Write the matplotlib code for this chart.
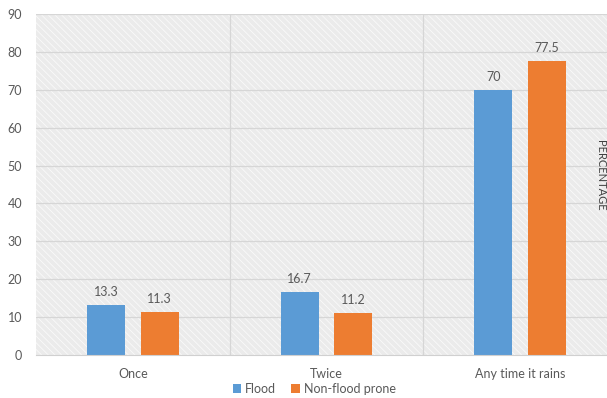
import numpy as np
import matplotlib.pyplot as plt
from matplotlib.patches import Rectangle

plt.rcParams['font.family'] = ['Lato', 'DejaVu Sans']
plt.rcParams['hatch.linewidth'] = 0.6

categories = ['Once', 'Twice', 'Any time it rains']
flood = [13.3, 16.7, 70]
non_flood = [11.3, 11.2, 77.5]
legend_labels = ['Flood', 'Non-flood prone']

blue = '#5b9bd5'
orange = '#ed7d31'
text_gray = '#595959'

fig = plt.figure(figsize=(6.07, 3.98), dpi=100)
# the plot area runs slightly past the right edge of the figure
ax = fig.add_axes([36 / 607, 1 - 355 / 398, (617 - 36) / 607, (355 - 14) / 398])

ind = np.arange(len(categories))
width = 0.196
offset = 0.139

# hatched background
bg = Rectangle((0, 0), 1, 1, transform=ax.transAxes, facecolor='#ebebeb',
               edgecolor='#fafafa', hatch='\\\\\\\\\\', linewidth=0, zorder=0)
ax.add_patch(bg)

flood_bars = ax.bar(ind - offset, flood, width, color=blue, zorder=3)
non_bars = ax.bar(ind + offset, non_flood, width, color=orange, zorder=3)

for bars in (flood_bars, non_bars):
    for b in bars:
        v = b.get_height()
        ax.annotate(f'{v:g}', (b.get_x() + b.get_width() / 2, v),
                    xytext=(0, 5), textcoords='offset points',
                    ha='center', va='bottom', fontsize=9, color=text_gray)

ax.set_xlim(-0.5, len(categories) - 0.5)
ax.set_ylim(0, 90)
ax.set_yticks(np.arange(0, 91, 10))
ax.set_xticks(ind)
ax.set_xticklabels(categories)

# gridlines: horizontal at each tick, vertical between categories
for y in np.arange(10, 91, 10):
    ax.axhline(y, color='#d6d6d6', linewidth=0.9, zorder=1)
for x in ind[:-1] + 0.5:
    ax.axvline(x, color='#d6d6d6', linewidth=0.9, zorder=1)

for side in ['top', 'right', 'left']:
    ax.spines[side].set_visible(False)
ax.spines['bottom'].set_color('#d0d0d0')
ax.spines['bottom'].set_zorder(4)
ax.tick_params(axis='both', length=0, labelsize=9, colors=text_gray)
ax.tick_params(axis='x', pad=9)
ax.tick_params(axis='y', pad=10)

ax.legend([flood_bars, non_bars], legend_labels, loc='center',
          bbox_to_anchor=(314 / 607, 1 - 389 / 398), bbox_transform=fig.transFigure,
          ncol=2, frameon=False, fontsize=9, handlelength=0.7, handleheight=0.7,
          handletextpad=0.3, columnspacing=1.2, labelcolor=text_gray)

fig.text(606 / 607, 1 - 175 / 398, 'PERCENTAGE', rotation=270, fontsize=8,
         color='#404040', ha='right', va='center')

fig.savefig('out.png', dpi=100)
